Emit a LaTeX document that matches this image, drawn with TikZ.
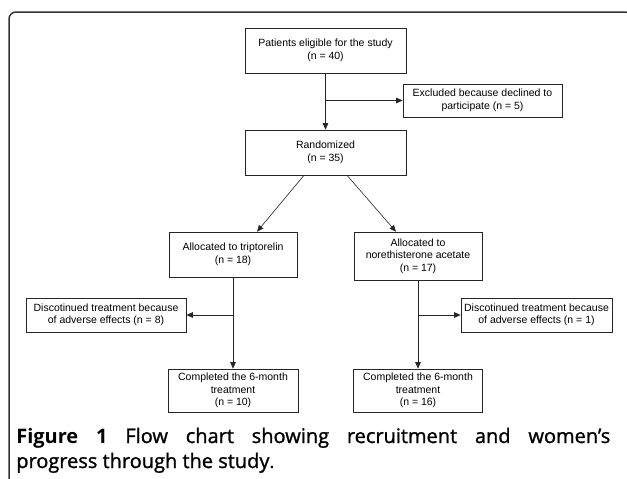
\documentclass[tikz,border=0pt]{standalone}
\usepackage{fontspec}
\setmainfont{Liberation Sans}
\newfontfamily\capfont{Open Sans}
\newfontfamily\captitle{Open Sans}[FakeBold=1.2]
\usetikzlibrary{arrows.meta}

\begin{document}
\begin{tikzpicture}[x=1pt,y=-1pt,->,>={Triangle[length=6.5pt,width=5.5pt]},draw=black!85,line width=0.6pt]
    \tikzstyle{stage}=[rectangle,draw=black!85,inner sep=0pt,align=center,font=\fontsize{10.5}{12.5}\selectfont]
    \tikzstyle{wide}=[stage,minimum width=161pt,minimum height=45pt]
    \tikzstyle{arm}=[stage,minimum width=128pt]
    \tikzstyle{drop}=[stage,minimum width=160pt,minimum height=34pt]
    \tikzstyle{caption}=[anchor=base west,text width=594pt,align=justify,inner sep=0pt,font=\capfont\fontsize{20}{25}\selectfont]

    \useasboundingbox (0,0) rectangle (627,479);
    \clip (0,0) rectangle (627,479);

    %%% FRAME
    \draw[-,line width=1.5pt,black!80,rounded corners=7pt] (9,12) rectangle (632,500);

    %%% DRAW THE NODES
    \node[wide] (elig) at (325.5,50.5) {Patients eligible for the study\\(n = 40)};
    \node[stage,minimum width=159pt,minimum height=33pt] (excl) at (482.5,100.5) {Excluded because declined to\\participate (n = 5)};
    \node[wide] (rand) at (325.5,152.5) {Randomized\\(n = 35)};
    \node[arm,minimum height=45pt] (trip) at (233,254.5) {Allocated to triptorelin\\(n = 18)};
    \node[arm,minimum height=48pt] (noreth) at (418,256) {Allocated to\\norethisterone acetate\\(n = 17)};
    \node[drop] (disL) at (106,315) {Discotinued treatment because\\of adverse effects (n = 8)};
    \node[drop,minimum width=151pt] (disR) at (536.5,315) {Discotinued treatment because\\of adverse effects (n = 1)};
    \node[arm,minimum width=130pt,minimum height=43pt] (compL) at (233,390.5) {Completed the 6-month\\treatment\\(n = 10)};
    \node[arm,minimum width=129pt,minimum height=43pt] (compR) at (418,390.5) {Completed the 6-month\\treatment\\(n = 16)};

    %%% DRAW THE PATHS
    \draw (elig) -- (rand);
    \draw (elig.south |- excl.west) -- (excl.west);
    \draw ([xshift=-21.5pt]rand.south) -- ([xshift=24pt]trip.north);
    \draw ([xshift=21.5pt]rand.south) -- ([xshift=-22pt]noreth.north);
    \draw (trip) -- (compL);
    \draw (trip.south |- disL.east) -- (disL.east);
    \draw (noreth) -- (compR);
    \draw (noreth.south |- disR.west) -- (disR.west);

    %%% CAPTION
    \node[caption] (cap) at (16,443) {\textbf{Figure 1} {\captitle Flow chart showing recruitment and women’s\linebreak progress through the study}.};
\end{tikzpicture}
\end{document}
